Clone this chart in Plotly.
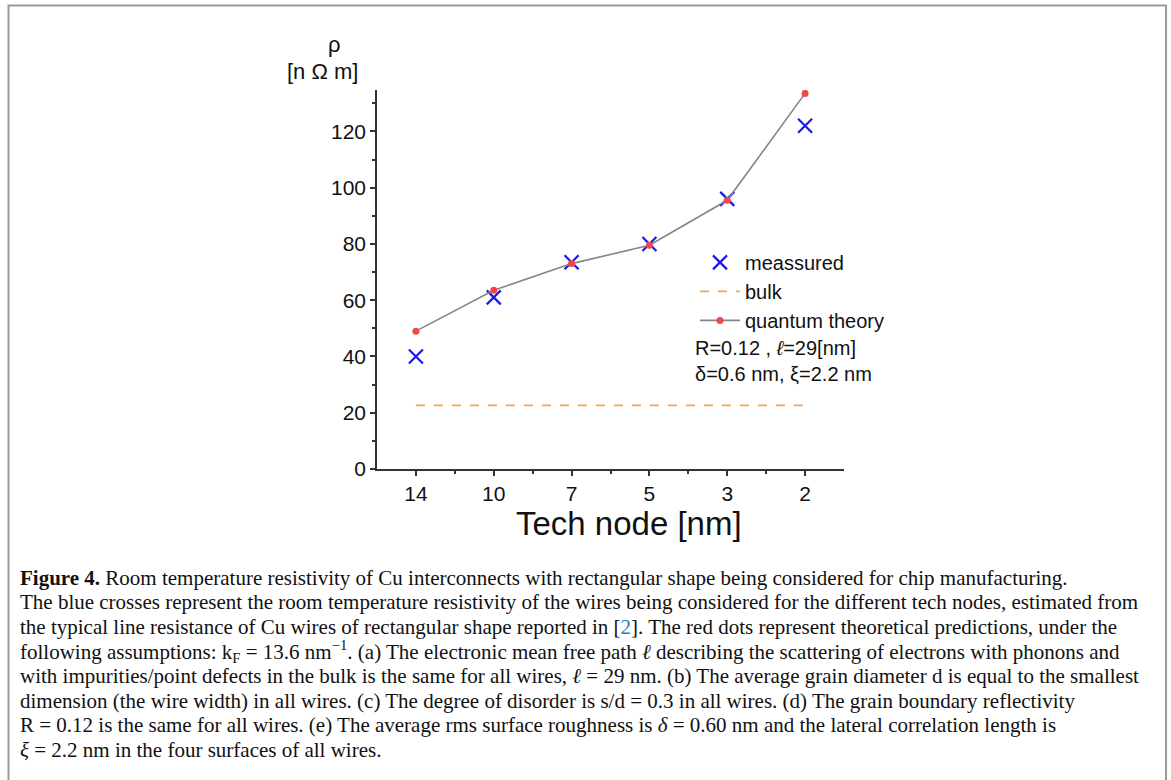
import plotly.graph_objects as go

# ---- data ----
tech_nodes = ["14", "10", "7", "5", "3", "2"]
measured = [40.0, 61.0, 73.5, 80.0, 96.0, 122.0]
quantum_theory = [49.0, 63.5, 73.0, 79.5, 95.5, 133.5]
bulk = [22.6, 22.6, 22.6, 22.6, 22.6, 22.6]
y_ticks = [0, 20, 40, 60, 80, 100, 120]

xi = list(range(len(tech_nodes)))

W, H = 1171, 780
L, R_, T, B = 377, 844, 90, 469.3
def px(x):
    return (x - L) / (R_ - L)
def py(y):
    return (B - y) / (B - T)

AX = "Liberation Sans, Arial, sans-serif"
SERIF = "Liberation Serif, Times New Roman, serif"

fig = go.Figure()
fig.add_trace(go.Scatter(
    x=xi, y=measured, mode="markers", name="meassured",
    marker=dict(symbol="x-thin", size=14, line=dict(width=2.2, color="#1a1ae6"), color="#1a1ae6"),
))
fig.add_trace(go.Scatter(
    x=xi, y=bulk, mode="lines", name="bulk",
    line=dict(color="#f4a25a", width=1.8, dash="dash"),
))
fig.add_trace(go.Scatter(
    x=xi, y=quantum_theory, mode="lines+markers", name="quantum theory",
    line=dict(color="#858585", width=1.6),
    marker=dict(symbol="circle", size=7, color="#f04848"),
))

fig.update_layout(
    width=W, height=H,
    margin=dict(l=L, r=W - R_, t=T, b=H - B),
    paper_bgcolor="white", plot_bgcolor="white",
    showlegend=True,
    legend=dict(x=px(695), y=py(243), xanchor="left", yanchor="top",
                font=dict(family=AX, size=20, color="#111"),
                bgcolor="rgba(0,0,0,0)", tracegroupgap=0, itemwidth=40),
    xaxis=dict(
        range=[-0.5, 5.5], tickmode="array", tickvals=xi, ticktext=tech_nodes,
        showline=True, linecolor="#333", linewidth=1.5,
        ticks="outside", ticklen=5, tickwidth=1.5, tickcolor="#333",
        tickfont=dict(family=AX, size=21, color="#111"),
        minor=dict(tickmode="array", tickvals=[i + 0.5 for i in xi[:-1]],
                   ticks="outside", ticklen=3, tickwidth=1.5, tickcolor="#333"),
        showgrid=False, zeroline=False,
    ),
    yaxis=dict(
        range=[0, 134.7], tickmode="array", tickvals=y_ticks,
        showline=True, linecolor="#333", linewidth=1.5,
        ticks="outside", ticklen=5, tickwidth=1.5, tickcolor="#333",
        tickfont=dict(family=AX, size=21, color="#111"),
        minor=dict(dtick=10, tick0=0, ticks="outside", ticklen=3, tickwidth=1.5, tickcolor="#333"),
        showgrid=False, zeroline=False,
    ),
)

ann = []
# axis titles
ann.append(dict(x=px(629), y=py(524), xanchor="center", text="Tech node [nm]",
                font=dict(family=AX, size=33, color="#111")))
ann.append(dict(x=px(334), y=py(44), xanchor="center", text="ρ", font=dict(family=AX, size=22, color="#111")))
ann.append(dict(x=px(322), y=py(71), xanchor="center", text="[n Ω m]", font=dict(family=AX, size=22, color="#111")))
# parameter text
ann.append(dict(x=px(693), y=py(348), xanchor="left", text="R=0.12 , <i>ℓ</i>=29[nm]",
                font=dict(family=AX, size=20, color="#111")))
ann.append(dict(x=px(693), y=py(374), xanchor="left", text="δ=0.6 nm, ξ=2.2 nm",
                font=dict(family=AX, size=20, color="#111")))

caption = [
    "<b>Figure 4.</b> Room temperature resistivity of Cu interconnects with rectangular shape being considered for chip manufacturing.",
    "The blue crosses represent the room temperature resistivity of the wires being considered for the different tech nodes, estimated from",
    "the typical line resistance of Cu wires of rectangular shape reported in [<span style='color:#2a7fb8'>2</span>]. The red dots represent theoretical predictions, under the",
    "following assumptions: k<sub>F</sub> = 13.6 nm<sup>−1</sup>. (a) The electronic mean free path <i>ℓ</i> describing the scattering of electrons with phonons and",
    "with impurities/point defects in the bulk is the same for all wires, <i>ℓ</i> = 29 nm. (b) The average grain diameter d is equal to the smallest",
    "dimension (the wire width) in all wires. (c) The degree of disorder is s/d = 0.3 in all wires. (d) The grain boundary reflectivity",
    "R = 0.12 is the same for all wires. (e) The average rms surface roughness is <i>δ</i> = 0.60 nm and the lateral correlation length is",
    "<i>ξ</i> = 2.2 nm in the four surfaces of all wires.",
]
y0 = 578
for i, line in enumerate(caption):
    ann.append(dict(x=px(18), y=py(y0 + i * 24.6), xanchor="left", yanchor="middle", text=line,
                    font=dict(family=SERIF, size=21, color="#111")))

for a in ann:
    a.setdefault("xref", "paper")
    a.setdefault("yref", "paper")
    a.setdefault("showarrow", False)
    a.setdefault("yanchor", "middle")
fig.update_layout(annotations=ann)

# outer frame
fig.add_shape(type="rect", xref="paper", yref="paper",
              x0=px(8.5), y0=py(5.5), x1=px(1166), y1=py(800),
              line=dict(color="#9a9a9a", width=2), fillcolor="rgba(0,0,0,0)", layer="above")

fig.write_html("out.html", config={"displayModeBar": False},
               post_script="document.body.style.margin='0px';")
